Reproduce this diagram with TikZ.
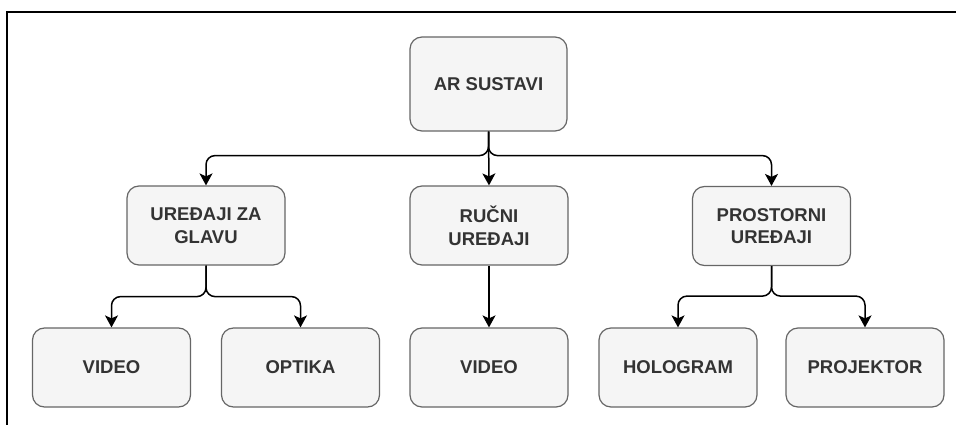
\documentclass[tikz,border=0pt]{standalone}
\usepackage{fontspec}
\setmainfont{Liberation Sans}
\usetikzlibrary{positioning,arrows.meta}
\definecolor{boxfill}{HTML}{F5F5F5}
\definecolor{boxline}{HTML}{666666}
\definecolor{boxtext}{HTML}{333333}

\begin{document}
\begin{tikzpicture}[
    x=1pt, y=-1pt,
    % define styles
    box/.style={
        draw=boxline,
        fill=boxfill,
        line width=1.2pt,
        rounded corners=12pt,
        minimum width=158pt,
        minimum height=79pt,
        align=center,
        text=boxtext,
        font=\bfseries\fontsize{18.5}{22.7}\selectfont
    },
    link/.style={
        draw=black,
        line width=1.5pt,
        rounded corners=9pt,
        -{Stealth[length=12pt,width=13pt,inset=3pt]}
    }
]
\useasboundingbox (0,0) rectangle (956,425);
% frame
\draw[line width=1.5pt] (7,425) -- (7,12) -- (956,12);

% Top level
\node[box, minimum width=157pt, minimum height=94pt] at (488.5,84) (root) {AR SUSTAVI};

% Middle level
\node[box] at (206,225.5) (head) {UREĐAJI ZA\\GLAVU};
\node[box] at (489,225.5) (hand) {RUČNI\\UREĐAJI};
\node[box] at (771.5,226) (space) {PROSTORNI\\UREĐAJI};

% Bottom level
\node[box] at (111.5,367.5) (headvideo) {VIDEO};
\node[box] at (300.5,367.5) (optika) {OPTIKA};
\node[box] at (489,367.5) (handvideo) {VIDEO};
\node[box] at (678,367.5) (hologram) {HOLOGRAM};
\node[box] at (865,367.5) (projektor) {PROJEKTOR};

% Arrows from the root
\draw[link] (root.south) -- ++(0,24) -| (head.north);
\draw[link] (root.south) -- ++(0,24) -| (space.north);
\draw[link] (root.south) -- (hand.north);
% Arrows to the bottom row
\draw[link] (head.south) -- ++(0,31) -| (headvideo.north);
\draw[link] (head.south) -- ++(0,31) -| (optika.north);
\draw[link] (hand.south) -- (handvideo.north);
\draw[link] (space.south) -- ++(0,30) -| (hologram.north);
\draw[link] (space.south) -- ++(0,30) -| (projektor.north);
\end{tikzpicture}
\end{document}
